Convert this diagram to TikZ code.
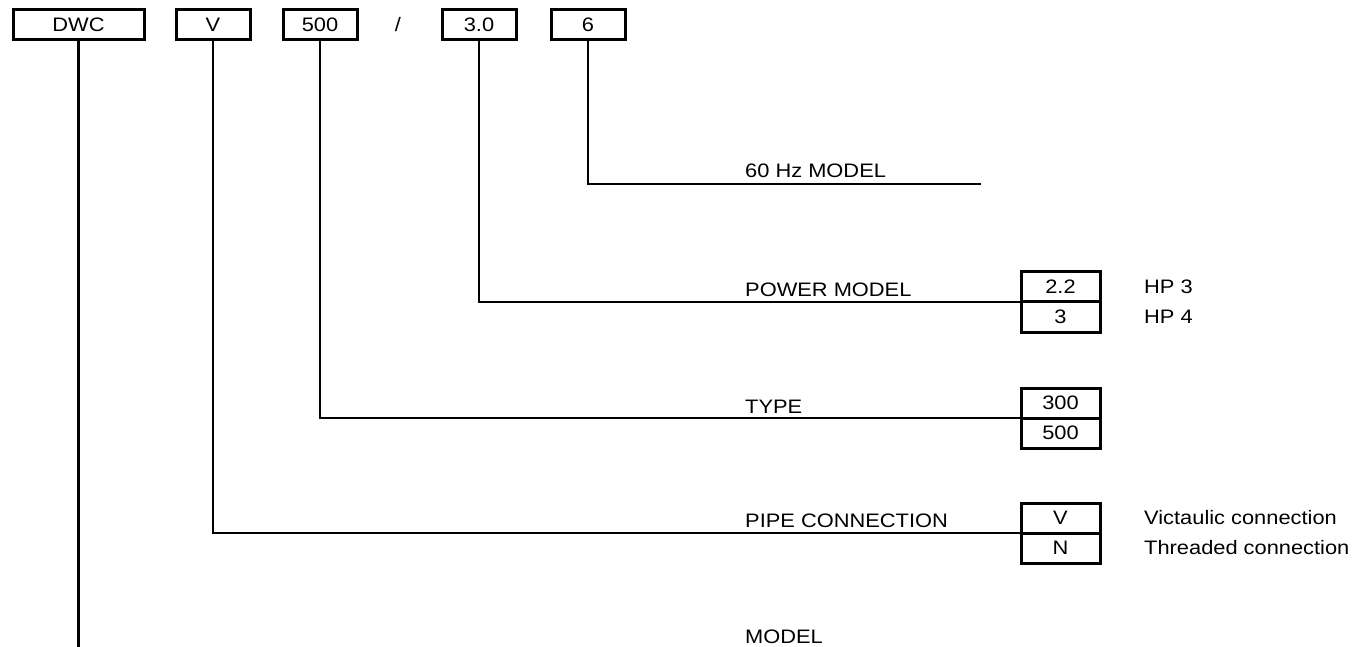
\documentclass[tikz,border=0pt]{standalone}
\usepackage{fontspec}
\setmainfont{Liberation Sans}[FakeStretch=1.12]
\usetikzlibrary{positioning}

\begin{document}
\begin{tikzpicture}[
  x=1pt, y=-1pt,
  font=\fontsize{19.5}{24}\selectfont,
  codebox/.style={draw, rectangle, line width=3pt, outer sep=0pt,
                  minimum width=74pt, minimum height=30pt, inner sep=0pt, text centered},
  cellbox/.style={draw, rectangle, line width=3pt, outer sep=0pt,
                  minimum width=79pt, minimum height=30pt, inner sep=0pt, text centered},
  fieldname/.style={anchor=base west, inner sep=0pt},
  optnote/.style={inner sep=0pt},
  link/.style={line width=2.8pt},
  node distance=33pt,
]
\useasboundingbox (0,0) rectangle (1369,647);

% model code
\node[codebox, minimum width=131pt] (dwc) at (78.5,25) {DWC};
\node[codebox, right=32pt of dwc]   (pipe)  {V};
\node[codebox, right=of pipe]       (type)  {500};
\node                               (slash) at (398,25) {/};
\node[codebox, right=85pt of type]  (power) {3.0};
\node[codebox, right=35pt of power] (hz)    {6};

% option tables
\node[cellbox] (pw1) at (1060.5,287) {2.2};
\node[cellbox, below=0pt of pw1] (pw2) {3};
\node[cellbox] (ty1) at (1060.5,403) {300};
\node[cellbox, below=0pt of ty1] (ty2) {500};
\node[cellbox] (pc1) at (1060.5,518) {V};
\node[cellbox, below=0pt of pc1] (pc2) {N};

\node[optnote, right=44pt of pw1] (hp3)  {HP 3};
\node[optnote, right=44pt of pw2] (hp4)  {HP 4};
\node[optnote, right=44pt of pc1] (vict) {Victaulic connection};
\node[optnote, right=44pt of pc2] (thrd) {Threaded connection};

% field names
\node[fieldname] (hzlbl) at (745,178) {60 Hz MODEL};
\node[fieldname] (pwlbl) at (745,297) {POWER MODEL};
\node[fieldname] (tylbl) at (745,413) {TYPE};
\node[fieldname] (pclbl) at (745,527) {PIPE CONNECTION};
\node[fieldname] (mdlbl) at (745,643) {MODEL};

\coordinate (hzend)  at (981,184);
\coordinate (dwcend) at (78.5,647);

\draw[link] (hz.south)    |- (hzend);
\draw[link] (power.south) |- (pw1.south west);
\draw[link] (type.south)  |- (ty1.south west);
\draw[link] (pipe.south)  |- (pc1.south west);
\draw[link] (dwc.south)   -- (dwcend);
\end{tikzpicture}
\end{document}
